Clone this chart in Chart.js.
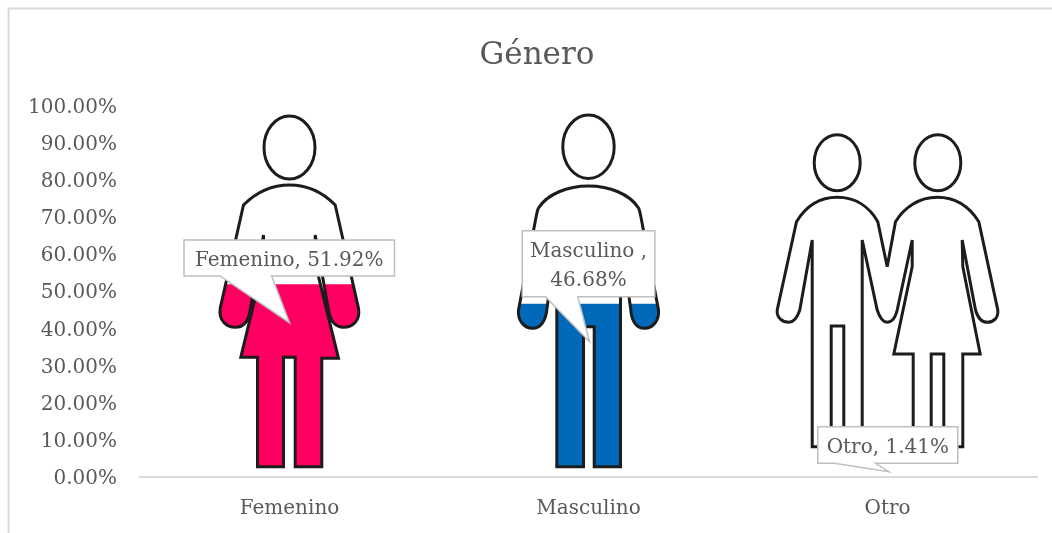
<!DOCTYPE html>
<html><head><meta charset="utf-8">
<script src="https://cdn.jsdelivr.net/npm/chart.js@4"></script>
<style>html,body{margin:0;padding:0;background:#fff}canvas{display:block}</style>
</head><body><canvas id="c" width="1052" height="533"></canvas>
<script>
const categories = ["Femenino", "Masculino", "Otro"];
const values = [51.92, 46.68, 1.41];
const barColors = ["#FF0062", "#0069BA", "#FFFFFF"];
const titleText = "Género";

const FONT = '"DejaVu Serif"';
const TEXT = "#595959";

// Silhouettes: local outlines, origin = (category centre, zero line of the value axis)
const femaleIcon = "M0,-292 C18,-292 34,-284 45.7,-272 L69,-168.7 C71,-156 63,-149.7 54,-149.7 C46,-149.7 41,-156 39,-167 L25.7,-242 L25.7,-213.7 L49,-118.7 L32.3,-118.7 L32.3,-10.3 L5.7,-10.3 L5.7,-119.7 L-6,-119.7 L-6,-10.3 L-32,-10.3 L-32,-119.7 L-48.7,-119.7 L-26,-213.7 L-26,-242 L-39.3,-167 C-41,-156 -46,-149.7 -54,-149.7 C-63,-149.7 -71,-156 -69.3,-168.7 L-46,-272 C-34,-284 -18,-292 0,-292 Z M25.5,-329.5 A25.5,31.5 0 1 1 -25.5,-329.5 A25.5,31.5 0 1 1 25.5,-329.5 Z";
const maleIcon = "M0,-291 C21,-291 41,-283 50,-269 C51.5,-266 52,-262 53,-257 L70,-167 C71,-156 64,-148.7 56,-148.7 C48,-148.7 43,-156 42.3,-167 L32,-243 L32,-10.3 L5.7,-10.3 L5.7,-150.3 L-5,-150.3 L-5,-10.3 L-31.7,-10.3 L-31.7,-243 L-41.7,-167 C-43,-156 -48,-148.7 -56,-148.7 C-64,-148.7 -71,-156 -70,-167 L-53,-257 C-52,-262 -51.5,-266 -50,-269 C-41,-283 -21,-291 0,-291 Z M25.7,-330.3 A25.7,31.7 0 1 1 -25.7,-330.3 A25.7,31.7 0 1 1 25.7,-330.3 Z";
const coupleIcon = "M-50.3,-279.7 C-32,-279.7 -18,-270 -9.7,-255.3 L-0.3,-210.3 L8,-255.3 C17,-270 32,-279.7 49.7,-279.7 C68,-279.7 82,-270 91.3,-255.3 L110.3,-167 C111,-159 106,-154.7 99.7,-154.7 C93,-154.7 90,-160 88,-167 L74.7,-237 L75.3,-210.3 L92.7,-123 L75.3,-123 L75.3,-30.3 L56.3,-30.3 L56.3,-123 L43.7,-123 L43.7,-30.3 L25.7,-30.3 L25.7,-123 L6.3,-123 L24.7,-210.3 L24.7,-237 L9.7,-167 C8,-160 5,-154.7 -0.3,-154.7 C-5,-154.7 -8,-160 -10.3,-167 L-25.3,-237 L-25.3,-30.3 L-43.7,-30.3 L-43.7,-151 L-56.3,-151 L-56.3,-30.3 L-75.3,-30.3 L-75.3,-237 L-87.7,-167 C-90,-160 -93,-154.7 -98.7,-154.7 C-105,-154.7 -111,-159 -110.3,-167 L-91,-255.3 C-82,-270 -68,-279.7 -50.3,-279.7 Z M-27.3,-314.3 A23,28 0 1 1 -73.3,-314.3 A23,28 0 1 1 -27.3,-314.3 Z M73.3,-314.3 A23,28 0 1 1 27.3,-314.3 A23,28 0 1 1 73.3,-314.3 Z";
const icons = [femaleIcon, maleIcon, coupleIcon];

// Callout geometry relative to (category centre, zero line)
const callouts = [
  {box:[-105.5,-237,210.5,36], tail:[-17.8,0,-154.3,-69.5], lines:(c,v)=>[c+", "+v]},
  {box:[-66.3,-246.3,132.6,66], tail:[-10.7,1,-135.3,-43], lines:(c,v)=>[c+" ,",v]},
  {box:[-69.7,-50.3,140,36.6], tail:[-12,1.3,-5.3,-53], lines:(c,v)=>[c+", "+v]}
];

function iconsPath(chart){
  const p = new Path2D(), xs = chart.scales.x, y0 = chart.scales.y.getPixelForValue(0);
  icons.forEach((d,i)=>{
    p.addPath(new Path2D(d), new DOMMatrix().translate(xs.getPixelForValue(i), y0));
  });
  return p;
}

const pictogram = {
  id:"pictogram",
  beforeDraw(chart){
    const {ctx,width,height} = chart;
    ctx.save();
    ctx.fillStyle="#fff"; ctx.fillRect(0,0,width,height);
    ctx.strokeStyle="#D9D9D9"; ctx.lineWidth=2;
    ctx.beginPath(); ctx.moveTo(8.5,height); ctx.lineTo(8.5,8.5); ctx.lineTo(width,8.5); ctx.stroke();
    ctx.restore();
    chart.scales.y.getLabelItems().forEach(it=>{ it.options.translation[1]+=1.5; });
    chart.titleBlock.left += 37;
  },
  beforeDatasetsDraw(chart){
    chart.ctx.save();
    chart.ctx.clip(iconsPath(chart));
  },
  afterDatasetsDraw(chart){
    const ctx = chart.ctx;
    ctx.restore();
    ctx.save();
    ctx.strokeStyle="#1C1C1C"; ctx.lineWidth=3; ctx.lineJoin="miter"; ctx.miterLimit=3;
    ctx.stroke(iconsPath(chart));
    ctx.restore();
  },
  afterDraw(chart){
    const ctx = chart.ctx, xs = chart.scales.x, y0 = chart.scales.y.getPixelForValue(0);
    callouts.forEach((c,i)=>{
      const ox = xs.getPixelForValue(i), [bx,by,bw,bh] = c.box, [t1,tx,ty,t2] = c.tail;
      const left = ox+bx, top = y0+by, bottom = top+bh;
      ctx.save();
      ctx.beginPath();
      ctx.moveTo(left,top); ctx.lineTo(left+bw,top); ctx.lineTo(left+bw,bottom);
      ctx.lineTo(ox+t1,bottom); ctx.lineTo(ox+tx,y0+ty); ctx.lineTo(ox+t2,bottom);
      ctx.lineTo(left,bottom); ctx.closePath();
      ctx.fillStyle="#fff"; ctx.fill();
      ctx.strokeStyle="#BFBFBF"; ctx.lineWidth=1.5; ctx.stroke();
      ctx.fillStyle=TEXT; ctx.font="20px "+FONT; ctx.textAlign="center"; ctx.textBaseline="middle";
      const lines = c.lines(categories[i], values[i].toFixed(2)+"%");
      const lh = 29.5, cy = top+bh/2+2.5;
      lines.forEach((s,k)=>ctx.fillText(s, left+bw/2, cy+(k-(lines.length-1)/2)*lh));
      ctx.restore();
    });
  }
};

new Chart(document.getElementById("c"),{
  type:"bar",
  data:{labels:categories,datasets:[{data:values,backgroundColor:barColors,borderWidth:0,barPercentage:1,categoryPercentage:1}]},
  plugins:[pictogram],
  options:{
    responsive:false,animation:false,devicePixelRatio:1,
    events:[],
    layout:{padding:{left:0,right:15,top:0,bottom:0}},
    plugins:{
      legend:{display:false},tooltip:{enabled:false},
      title:{display:true,text:titleText,color:TEXT,font:{family:FONT,size:31,weight:"normal",lineHeight:1.2},padding:{top:37,bottom:32.3}}
    },
    scales:{
      x:{
        grid:{display:false,drawTicks:false},
        border:{display:true,color:"#D9D9D9",width:2},
        ticks:{color:TEXT,font:{family:FONT,size:20},padding:20,maxRotation:0},
        afterFit(s){s.height=56;}
      },
      y:{
        min:0,max:100,
        grid:{display:false,drawTicks:false},
        border:{display:false},
        ticks:{stepSize:10,color:TEXT,font:{family:FONT,size:20},padding:23,callback:v=>v.toFixed(2)+"%"},
        afterFit(s){s.width=140;}
      }
    }
  }
});
</script></body></html>
